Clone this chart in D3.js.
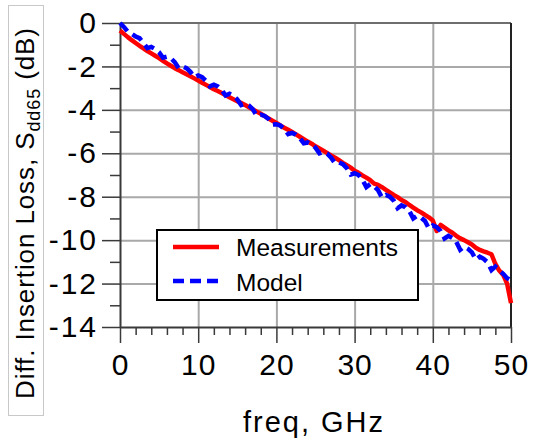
<!DOCTYPE html>
<html>
<head>
<meta charset="utf-8">
<script src="https://cdn.jsdelivr.net/npm/d3@7/dist/d3.min.js"></script>
<style>
  body { margin: 0; background: #fff; }
  svg { display: block; }
  text { font-family: "Liberation Sans", Arial, Helvetica, sans-serif; fill: #000; }
</style>
</head>
<body>
<svg id="chart" width="534" height="443"></svg>
<script>
// Differential insertion loss Sdd65 (dB), sampled every 0.5 GHz from 0 to 50 GHz
const freqStepGHz = 0.5;

const measurements = [
  -0.35, -0.50, -0.65, -0.79, -0.92, -1.05, -1.17, -1.29, -1.40, -1.51,
  -1.62, -1.74, -1.86, -1.97, -2.08, -2.17, -2.27, -2.36, -2.45, -2.55,
  -2.65, -2.75, -2.85, -2.95, -3.05, -3.13, -3.22, -3.32, -3.42, -3.51,
  -3.60, -3.69, -3.78, -3.88, -3.98, -4.08, -4.18, -4.29, -4.40, -4.50,
  -4.60, -4.72, -4.82, -4.92, -5.02, -5.13, -5.24, -5.35, -5.46, -5.56,
  -5.68, -5.78, -5.88, -5.99, -6.10, -6.20, -6.32, -6.44, -6.55, -6.66,
  -6.80, -6.90, -7.02, -7.12, -7.24, -7.40, -7.46, -7.56, -7.68, -7.80,
  -7.92, -8.02, -8.15, -8.24, -8.38, -8.50, -8.62, -8.72, -8.84, -8.95,
  -9.10, -9.58, -9.30, -9.42, -9.55, -9.66, -9.80, -9.92, -10.00, -10.10,
  -10.20, -10.35, -10.45, -10.52, -10.58, -10.65, -11.10, -11.40, -11.60, -12.00,
  -12.90
];

const model = [
  0.00, -0.18, -0.40, -0.50, -0.62, -0.70, -0.92, -1.16, -1.10, -1.20,
  -1.35, -1.60, -1.55, -1.62, -1.80, -2.08, -2.00, -2.08, -2.25, -2.50,
  -2.42, -2.50, -2.66, -2.92, -2.84, -2.92, -3.08, -3.34, -3.26, -3.36,
  -3.52, -3.78, -3.72, -3.80, -3.98, -4.28, -4.22, -4.28, -4.42, -4.68,
  -4.66, -4.72, -4.88, -5.12, -5.06, -5.14, -5.30, -5.54, -5.50, -5.58,
  -5.74, -6.00, -5.94, -6.02, -6.20, -6.46, -6.42, -6.50, -6.68, -6.98,
  -6.92, -7.00, -7.22, -7.56, -7.42, -7.52, -7.70, -8.04, -7.92, -8.00,
  -8.18, -8.53, -8.40, -8.48, -8.66, -9.00, -8.88, -8.96, -9.12, -9.46,
  -9.32, -9.40, -9.58, -9.92, -9.80, -9.90, -10.08, -10.44, -10.30, -10.40,
  -10.56, -10.90, -10.76, -10.86, -11.02, -11.38, -11.22, -11.40, -11.55, -11.75,
  -11.85
];

const seriesNames = ["Measurements", "Model"];
const xMajorTicks = [0, 10, 20, 30, 40, 50];
const xMinorTicks = [2, 4, 6, 8, 12, 14, 16, 18, 22, 24, 26, 28, 32, 34, 36, 38, 42, 44, 46, 48];
const yMajorTicks = [0, -2, -4, -6, -8, -10, -12, -14];
const yMinorTicks = [-1, -3, -5, -7, -9, -11, -13];
const xTitle = "freq, GHz";

const svg = d3.select("#chart");
const plotL = 120, plotR = 511, plotT = 23, plotB = 327;

const x = d3.scaleLinear().domain([0, 50]).range([plotL, plotR]);
const y = d3.scaleLinear().domain([-14, 0]).range([plotB, plotT]);

const AXIS = "#3a3a3a";
const GRID = "#a9a9a9";

// grid lines
svg.append("g")
  .attr("transform", `translate(0,${plotB})`)
  .call(d3.axisBottom(x).tickValues(xMajorTicks.slice(1, -1)).tickSize(-(plotB - plotT)).tickFormat(""))
  .call(g => g.select(".domain").remove())
  .call(g => g.selectAll("line").attr("stroke", GRID).attr("stroke-width", 2));
svg.append("g")
  .attr("transform", `translate(${plotL},0)`)
  .call(d3.axisLeft(y).tickValues(yMajorTicks.slice(1, -1)).tickSize(-(plotR - plotL)).tickFormat(""))
  .call(g => g.select(".domain").remove())
  .call(g => g.selectAll("line").attr("stroke", GRID).attr("stroke-width", 2));

// frame: top and right edges
svg.append("line").attr("x1", plotL).attr("x2", plotR).attr("y1", y(0)).attr("y2", y(0))
  .attr("stroke", "#6e6e6e").attr("stroke-width", 2);
svg.append("line").attr("x1", plotR).attr("x2", plotR).attr("y1", plotT).attr("y2", plotB)
  .attr("stroke", "#222").attr("stroke-width", 2);

// y axis: major ticks with labels, minor ticks
const yAxis = svg.append("g")
  .attr("transform", `translate(${plotL},0)`)
  .call(d3.axisLeft(y).tickValues(yMajorTicks).tickSize(18).tickSizeOuter(0).tickPadding(4)
    .tickFormat(d => String(d)));
yAxis.select(".domain").attr("stroke", AXIS).attr("stroke-width", 2);
yAxis.selectAll(".tick line").attr("stroke", AXIS).attr("stroke-width", 1.5);
yAxis.selectAll(".tick text")
  .attr("font-size", 30).attr("letter-spacing", "2px")
  .attr("font-family", "Liberation Sans, Arial, sans-serif").attr("fill", "#000");
svg.append("g")
  .attr("transform", `translate(${plotL},0)`)
  .call(d3.axisLeft(y).tickValues(yMinorTicks).tickSize(10).tickSizeOuter(0).tickFormat(""))
  .call(g => g.select(".domain").remove())
  .call(g => g.selectAll("line").attr("stroke", AXIS).attr("stroke-width", 1.5));

// x axis: major ticks with labels, minor ticks
const xAxis = svg.append("g")
  .attr("transform", `translate(0,${plotB})`)
  .call(d3.axisBottom(x).tickValues(xMajorTicks).tickSize(16).tickSizeOuter(0).tickPadding(11));
xAxis.select(".domain").attr("stroke", AXIS).attr("stroke-width", 2);
xAxis.selectAll(".tick line").attr("stroke", AXIS).attr("stroke-width", 1.5);
xAxis.selectAll(".tick text")
  .attr("font-size", 30).attr("letter-spacing", "1px")
  .attr("font-family", "Liberation Sans, Arial, sans-serif").attr("fill", "#000");
svg.append("g")
  .attr("transform", `translate(0,${plotB})`)
  .call(d3.axisBottom(x).tickValues(xMinorTicks).tickSize(8).tickSizeOuter(0).tickFormat(""))
  .call(g => g.select(".domain").remove())
  .call(g => g.selectAll("line").attr("stroke", AXIS).attr("stroke-width", 1.5));

// curves
const line = d3.line()
  .x((d, i) => x(i * freqStepGHz))
  .y(d => y(d));

svg.append("path").datum(measurements)
  .attr("d", line).attr("fill", "none")
  .attr("stroke", "#ff0000").attr("stroke-width", 4.5)
  .attr("stroke-linejoin", "round");

svg.append("path").datum(model)
  .attr("d", line).attr("fill", "none")
  .attr("stroke", "#0000ff").attr("stroke-width", 4.5)
  .attr("stroke-dasharray", "11 6");

// axis titles
svg.append("text")
  .attr("x", 314).attr("y", 432)
  .attr("text-anchor", "middle")
  .attr("font-size", 29).attr("letter-spacing", "2px")
  .text(xTitle);

svg.append("rect")
  .attr("x", 8.5).attr("y", 5.5).attr("width", 35).attr("height", 410)
  .attr("fill", "none").attr("stroke", "#c8c8c8").attr("stroke-width", 1);

const yTitle = svg.append("text")
  .attr("transform", "translate(34,213) rotate(-90)")
  .attr("text-anchor", "middle")
  .attr("font-size", 26).attr("letter-spacing", "0.9px");
yTitle.append("tspan").text("Diff. Insertion Loss, S");
yTitle.append("tspan").attr("font-size", 18).attr("dy", 6).text("dd65");
yTitle.append("tspan").attr("dy", -6).text(" (dB)");

// legend
const legend = svg.append("g");
legend.append("rect")
  .attr("x", 157).attr("y", 230).attr("width", 261).attr("height", 70)
  .attr("fill", "#fff").attr("stroke", "#000").attr("stroke-width", 2);
const legendRows = [
  { name: seriesNames[0], color: "#ff0000", dash: null, ly: 247, ty: 256 },
  { name: seriesNames[1], color: "#0000ff", dash: "11 6", ly: 281, ty: 291 }
];
legendRows.forEach(r => {
  legend.append("line")
    .attr("x1", 173).attr("x2", 219).attr("y1", r.ly).attr("y2", r.ly)
    .attr("stroke", r.color).attr("stroke-width", 4.5)
    .attr("stroke-dasharray", r.dash);
  legend.append("text")
    .attr("x", 236).attr("y", r.ty)
    .attr("font-size", 24.5)
    .text(r.name);
});
</script>
</body>
</html>
